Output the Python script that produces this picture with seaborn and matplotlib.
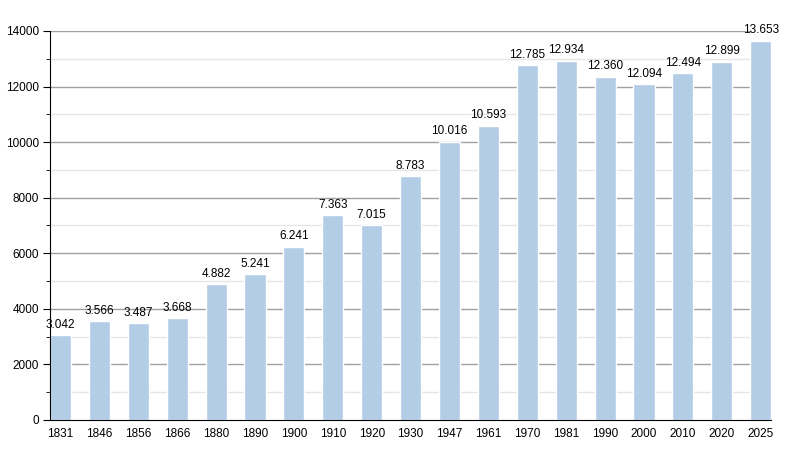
import pandas as pd
import numpy as np
import matplotlib.pyplot as plt
import seaborn as sns

# population by census year
years = ['1831', '1846', '1856', '1866', '1880', '1890', '1900', '1910', '1920', '1930',
         '1947', '1961', '1970', '1981', '1990', '2000', '2010', '2020', '2025']
population = [3042, 3566, 3487, 3668, 4882, 5241, 6241, 7363, 7015, 8783,
              10016, 10593, 12785, 12934, 12360, 12094, 12494, 12899, 13653]

df = pd.DataFrame({'year': years, 'pop': population})

sns.set_style('white')
plt.rcParams['font.family'] = ['Liberation Sans', 'DejaVu Sans']
plt.rcParams['text.color'] = 'black'
plt.rcParams['xtick.color'] = 'black'
plt.rcParams['ytick.color'] = 'black'

fig = plt.figure(figsize=(8, 4.5), dpi=100)
ax = fig.add_axes([0.0625, 0.0667, 0.9015, 0.8645])

sns.barplot(data=df, x='year', y='pop', color='#b3cde6', width=0.54,
            saturation=1, ax=ax, zorder=3)

half = 0.27
ax.set_ylim(0, 14000)
ax.set_xlim(-half, len(years) - 1 + half)
ax.set_yticks(np.arange(0, 14001, 2000))
ax.set_yticks(np.arange(1000, 14000, 2000), minor=True)

# grid lines stop at the left edge of the last bar
span = len(years) - 1 + 2 * half
grid_end = (len(years) - 1) / span
for y in np.arange(2000, 14001, 2000):
    ax.axhline(y, xmax=grid_end, color='#a0a0a0', linewidth=1, zorder=0)
for y in np.arange(1000, 14000, 2000):
    ax.axhline(y, xmax=grid_end, color='#e6e6e6', linewidth=1, zorder=0)

for s in ['top', 'right']:
    ax.spines[s].set_visible(False)
ax.spines['left'].set_color('black')
ax.spines['bottom'].set_color('black')
ax.spines['left'].set_zorder(5)
ax.spines['bottom'].set_zorder(5)

ax.tick_params(axis='y', which='major', left=True, length=5, labelsize=8.5, pad=3)
ax.tick_params(axis='y', which='minor', left=True, length=3)
ax.tick_params(axis='x', bottom=False, labelsize=8.5, pad=2)
ax.set_xlabel('')
ax.set_ylabel('')

# labels with dot as thousands separator
for i, v in enumerate(population):
    ax.text(i, v + 150, f'{v:,}'.replace(',', '.'), ha='center', va='bottom',
            fontsize=8.5, zorder=6)

fig.savefig('out.png', dpi=100)
